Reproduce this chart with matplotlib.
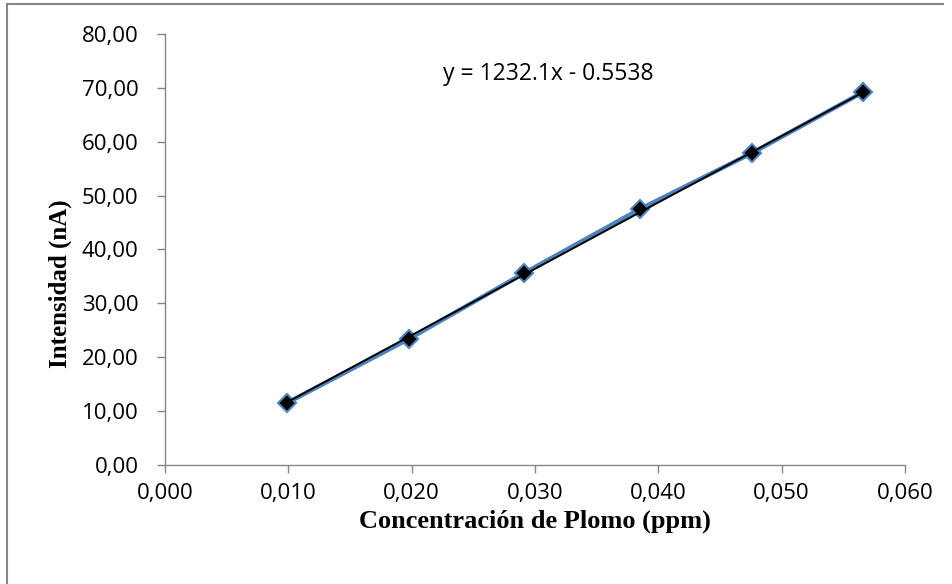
import matplotlib.pyplot as plt
from matplotlib.lines import Line2D
from matplotlib.ticker import FuncFormatter

# calibration data
conc = [0.00989, 0.01978, 0.02911, 0.03851, 0.04760, 0.05660]
intensidad = [11.5, 23.4, 35.6, 47.5, 57.9, 69.2]
slope, intercept = 1232.1, -0.5538
eq_label = "y = 1232.1x - 0.5538"

fig = plt.figure(figsize=(9.53, 5.84), dpi=100)
ax = fig.add_axes([0.1731, 0.2038, 0.7765, 0.738])

# trendline (black) and data series (blue + black diamonds)
trend_x = [conc[0], conc[-1]]
trend_y = [slope * x + intercept for x in trend_x]
ax.plot(conc, intensidad, color='#4F81BD', lw=3.2, zorder=2,
        marker='D', markersize=9.5, markerfacecolor='black',
        markeredgecolor='#4F81BD', markeredgewidth=1.5)
ax.plot(trend_x, trend_y, color='black', lw=1.4, zorder=3)

ax.set_xlim(0, 0.060)
ax.set_ylim(0, 80)
ax.set_xticks([0, 0.01, 0.02, 0.03, 0.04, 0.05, 0.06])
ax.set_yticks(range(0, 81, 10))
ax.xaxis.set_major_formatter(FuncFormatter(lambda v, p: f"{v:.3f}".replace('.', ',')))
ax.yaxis.set_major_formatter(FuncFormatter(lambda v, p: f"{v:.2f}".replace('.', ',')))

for s in ['top', 'right']:
    ax.spines[s].set_visible(False)
for s in ['left', 'bottom']:
    ax.spines[s].set_color('#868686')
    ax.spines[s].set_linewidth(1.0)
ax.tick_params(direction='out', length=6, width=1, color='#868686', labelsize=16)
ax.tick_params(axis='y', pad=13)
ax.tick_params(axis='x', pad=7)
for lab in ax.get_xticklabels() + ax.get_yticklabels():
    lab.set_fontfamily('Open Sans')

ax.set_xlabel("Concentración de Plomo (ppm)", fontfamily='Liberation Serif',
              fontweight='bold', fontsize=19, labelpad=4)
ax.set_ylabel("Intensidad (nA)", fontfamily='Liberation Serif',
              fontweight='bold', fontsize=18)
ax.yaxis.set_label_coords(-0.125, 0.42)

ax.text(0.02254, 72.5, eq_label, fontfamily='Open Sans', fontsize=16.5,
        va='center', ha='left')

# chart area border (only top and left are visible in the original)
fig.add_artist(Line2D([0.0073, 0.0073], [0, 0.994], transform=fig.transFigure,
                      color='#868686', lw=1.5))
fig.add_artist(Line2D([0.0073, 0.99], [0.994, 0.994], transform=fig.transFigure,
                      color='#868686', lw=1.5))

fig.savefig("out.png", dpi=100)
